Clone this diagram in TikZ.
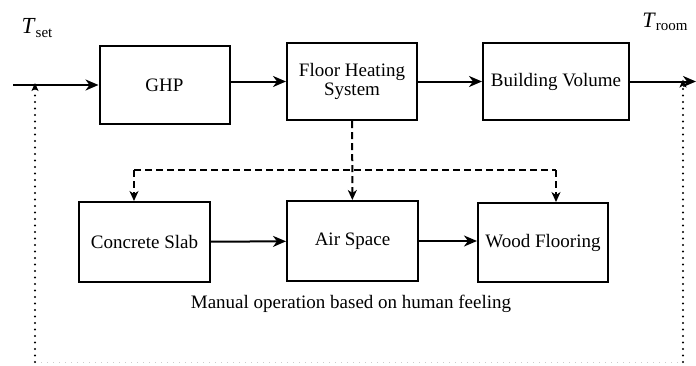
\documentclass[tikz,border=0pt]{standalone}
\usepackage{fontspec}
\setmainfont{Liberation Serif}
\usetikzlibrary{arrows.meta}

\begin{document}
\begin{tikzpicture}[x=1pt,y=-1pt,
    every node/.style={font=\fontsize{19}{22}\selectfont},
    block/.style={draw, line width=2pt, minimum width=130pt, minimum height=78pt, inner sep=2pt, align=center},
    flow/.style={line width=2pt, -{Stealth[length=13pt,width=11pt,inset=4pt]}},
    feed/.style={line width=2pt, dash pattern=on 7pt off 4pt, -{Stealth[length=10pt,width=9pt,inset=3pt]}},
    dashline/.style={line width=2pt, dash pattern=on 7pt off 4pt},
    back/.style={line width=2.2pt, line cap=round, dash pattern=on 0pt off 6.5pt, -{Stealth[length=8pt,width=7pt,inset=2pt]}}]
            \useasboundingbox (0,0) rectangle (696,365);
            \draw (164.5, 85) node[block](ghp){GHP};
            \draw (352, 81.5) node[block, minimum height=77pt](fhs){Floor Heating\\[-3pt]System};
            \draw (556, 81.5) node[block, minimum width=146pt, minimum height=77pt](bv){Building Volume};
            \draw (144.5, 242) node[block, minimum width=131pt, minimum height=80pt](slab){Concrete Slab};
            \draw (352.5, 241) node[block, minimum width=131pt, minimum height=80pt](air){Air Space};
            \draw (543, 242.5) node[block, minimum height=79pt](wood){Wood Flooring};
            \draw (37, 28) node(tset){\fontsize{23}{26}\selectfont\textit{T}\raisebox{-0.35ex}{\fontsize{15}{17}\selectfont set}};
            \draw (665, 22) node(troom){\fontsize{22}{26}\selectfont\textit{T}\raisebox{-0.35ex}{\fontsize{15}{17}\selectfont room}};
            \draw (351, 304) node(manual){Manual operation based on human feeling};
            % main loop
            \coordinate (in) at (13, 85);
            \coordinate (out) at (696, 81.5);
            \draw[flow] (in) -- (ghp);
            \draw[flow] (ghp.east |- fhs) -- (fhs);
            \draw[flow] (fhs) -- (bv);
            \draw[flow] (bv) -- (out);
            % floor layers
            \coordinate (dl) at (134, 170);
            \coordinate (dr) at (556, 170);
            \draw[dashline] (dl) -- (dr);
            \draw[feed] (fhs) -- (air);
            \draw[feed] (dl) -- (dl |- slab.north);
            \draw[feed] (dr) -- (dr |- wood.north);
            \draw[flow] (slab) -- (air);
            \draw[flow] (air.east |- 0, 241) -- (wood.west |- 0, 241);
            % feedback
            \coordinate (fbl) at (35, 362);
            \coordinate (fbr) at (683, 362);
            \draw[gray!40, line width=0.8pt, dash pattern=on 1pt off 5pt] (fbl) -- (fbr);
            \draw[back] (fbl) -- ([yshift=2pt]fbl |- in);
            \draw[back] (fbr) -- ([yshift=2pt]fbr |- out);
        \end{tikzpicture}
\end{document}
